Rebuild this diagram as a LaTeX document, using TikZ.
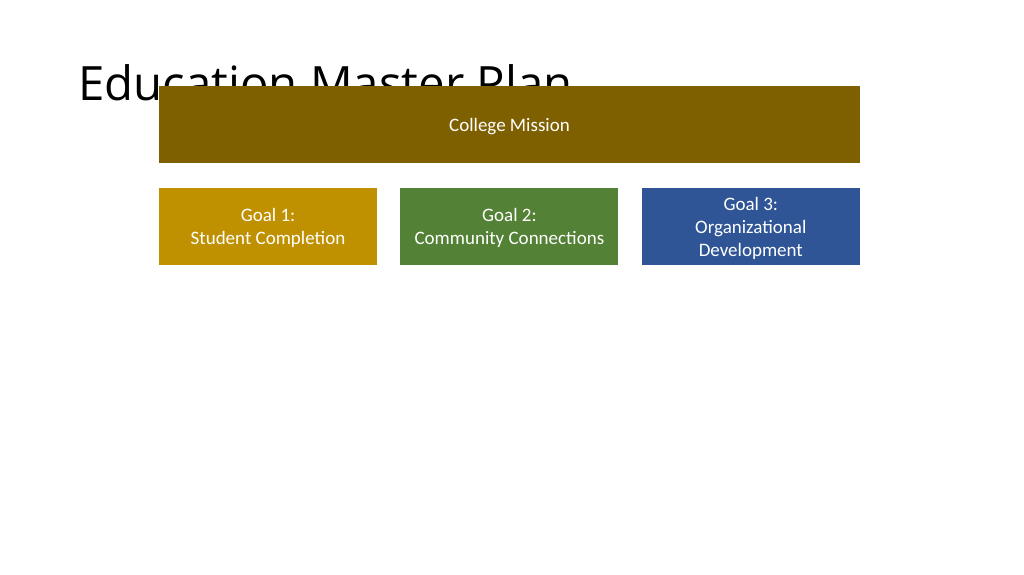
\documentclass[tikz,border=0pt]{standalone}
\usepackage{fontspec}
\setmainfont{Carlito}
\newfontfamily\titlefont{Open Sans}
\usetikzlibrary{positioning}

\definecolor{missionbrown}{HTML}{7F6000}
\definecolor{goalgold}{HTML}{BF9000}
\definecolor{goalgreen}{HTML}{538135}
\definecolor{goalblue}{HTML}{2F5597}

\tikzset{
  goalbox/.style={rectangle, draw=none, text=white, minimum width=218bp, minimum height=77bp,
    inner sep=0pt, align=center, text depth=0bp, font=\fontsize{19bp}{23bp}\selectfont},
}

\begin{document}
\begin{tikzpicture}[x=1bp, y=-1bp, node distance=23bp]
  \useasboundingbox (0,0) rectangle (1024,575);

  \node[anchor=base west, font=\titlefont\fontsize{47.3bp}{56bp}\selectfont] (title) at (75,101) {Education Master Plan};

  \node[goalbox, fill=missionbrown, minimum width=701bp] (mission) at (509.5,124.5) {College Mission};

  \node[goalbox, fill=goalgold] (goal1) at (268,226.5) {Goal 1:\\Student Completion};
  \node[goalbox, fill=goalgreen, right=of goal1] (goal2) {Goal 2:\\Community Connections};
  \node[goalbox, fill=goalblue, right=of goal2] (goal3) {Goal 3:\\Organizational\\Development};
\end{tikzpicture}
\end{document}
